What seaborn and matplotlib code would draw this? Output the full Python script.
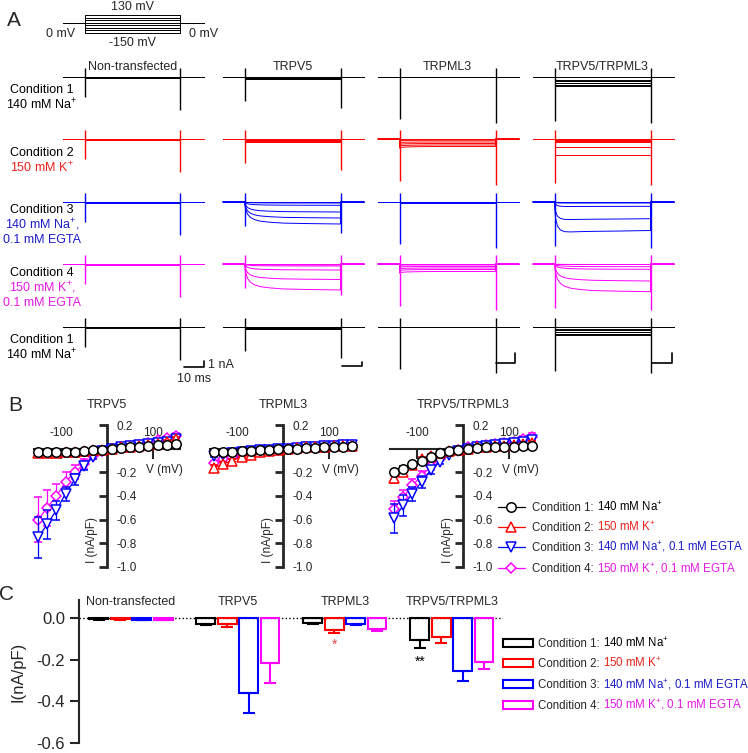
import numpy as np
import pandas as pd
import seaborn as sns
import matplotlib.pyplot as plt
from matplotlib.patches import Rectangle

# ---------------------------------------------------------------- data
cells = ['Non-transfected', 'TRPV5', 'TRPML3', 'TRPV5/TRPML3']
conds = ['Condition 1', 'Condition 2', 'Condition 3', 'Condition 4']
solutions = ['140 mM Na$^{+}$', '150 mM K$^{+}$',
             '140 mM Na$^{+}$, 0.1 mM EGTA', '150 mM K$^{+}$, 0.1 mM EGTA']
line_colors = ['#000000', '#ff0000', '#0000ff', '#ff00ff']
text_colors = ['#000000', '#e8231b', '#1c1cc8', '#e619e6']
markers = ['o', '^', 'v', 'D']
marker_sizes = [6.8, 6.5, 6.5, 5.5]

# A: voltage protocol and whole-cell current traces
protocol_mv = [-150, -110, -70, -30, 10, 50, 90, 130]
pulse_ms = 49
sample_ms = [0, 0.5, 1.5, 3, 5, 8, 13, 20, 32, 49]
profiles = {
    'flat': [1, 1, 1, 1, 1, 1, 1, 1, 1, 1],
    'slow': [0.05, 0.3, 0.55, 0.7, 0.8, 0.87, 0.92, 0.96, 0.98, 1.0],
    'fast': [0.1, 0.55, 0.85, 0.98, 1.04, 1.05, 1.04, 1.03, 1.02, 1.0],
    'ml3': [1.2, 1.15, 1.1, 1.07, 1.05, 1.03, 1.01, 1.0, 1.0, 1.0],
}
trace_rows = [0, 1, 2, 3, 0]   # condition shown in each row of traces
row_labels = [
    [('Condition 1', 0), ('140 mM Na$^{+}$', 0)],
    [('Condition 2', 0), ('150 mM K$^{+}$', 1)],
    [('Condition 3', 0), ('140 mM Na$^{+}$,', 2), ('0.1 mM EGTA', 2)],
    [('Condition 4', 0), ('150 mM K$^{+}$,', 3), ('0.1 mM EGTA', 3)],
    [('Condition 1', 0), ('140 mM Na$^{+}$', 0)],
]

# steady sweep levels (nA) per row, and the time course of each row
sweeps_non = [[0, -0.05, -0.1]] * 5
shape_non = ['flat'] * 5
sweeps_v5 = [[0, -0.05, -0.1, -0.15, -0.2, -0.25],
             [0, -0.05, -0.1, -0.15, -0.2, -0.25, -0.3],
             [0, -0.1, -0.33, -1.0, -1.6, -2.2],
             [0, -0.1, -0.2, -0.6, -1.55, -2.6],
             [0, -0.05, -0.1, -0.15, -0.2, -0.25]]
shape_v5 = ['flat', 'flat', 'slow', 'slow', 'flat']
sweeps_ml3 = [[0, -0.03],
              [0, -0.13, -0.3, -0.45, -0.6, -0.75],
              [0, -0.05, -0.1],
              [0, -0.1, -0.25, -0.4, -0.55, -0.75],
              [0, -0.04]]
shape_ml3 = ['flat', 'ml3', 'flat', 'ml3', 'flat']
sweeps_both = [[0, -0.27, -0.43, -0.6, -0.77, -0.93],
               [0, -0.07, -0.17, -0.3, -0.83, -1.57],
               [0, -0.05, -0.1, -0.43, -1.67, -2.85],
               [0, -0.05, -0.27, -0.53, -1.7, -2.77],
               [0, -0.17, -0.33, -0.5, -0.67, -0.83]]
shape_both = ['flat', 'flat', 'fast', 'slow', 'flat']

spike_up = 0.9
spike_on = [-2.0, -2.4, -4.2, -4.4]
spike_off = [-3.3, -3.1, -4.6, -4.6]
scale_t0 = [51.0, 50.0, 49.0, 50.0]
scale_y = [-4.0, -3.9, -3.6, -3.6]
scale_h = [0.6, 0.4, 1.0, 1.0]

# B: I-V relations (nA/pF)
iv_mv = [-150, -130, -110, -90, -70, -50, -30, -10, 10, 30, 50, 70, 90, 110, 130, 150]
iv_cells = ['TRPV5', 'TRPML3', 'TRPV5/TRPML3']
iv_mean = [
    [[-0.03, -0.03, -0.03, -0.03, -0.025, -0.02, -0.015, -0.01, 0.0, 0.005, 0.01, 0.015, 0.02, 0.03, 0.035, 0.04],
     [-0.04, -0.04, -0.035, -0.03, -0.025, -0.02, -0.015, -0.01, 0.0, 0.01, 0.015, 0.02, 0.03, 0.04, 0.06, 0.08],
     [-0.75, -0.64, -0.52, -0.38, -0.26, -0.15, -0.07, -0.02, 0.0, 0.01, 0.02, 0.03, 0.04, 0.05, 0.06, 0.08],
     [-0.60, -0.50, -0.40, -0.28, -0.20, -0.13, -0.06, -0.02, 0.0, 0.01, 0.02, 0.03, 0.05, 0.07, 0.09, 0.11]],
    [[-0.03, -0.03, -0.025, -0.02, -0.02, -0.015, -0.01, -0.005, 0.0, 0.0, 0.005, 0.005, 0.01, 0.01, 0.015, 0.02],
     [-0.16, -0.13, -0.10, -0.07, -0.05, -0.03, -0.02, -0.01, 0.0, 0.005, 0.01, 0.01, 0.015, 0.02, 0.02, 0.025],
     [-0.06, -0.05, -0.04, -0.03, -0.02, -0.015, -0.01, 0.0, 0.0, 0.005, 0.01, 0.015, 0.02, 0.025, 0.03, 0.03],
     [-0.12, -0.09, -0.07, -0.05, -0.04, -0.03, -0.02, -0.01, 0.0, 0.005, 0.01, 0.015, 0.02, 0.025, 0.03, 0.035]],
    [[-0.20, -0.17, -0.13, -0.10, -0.07, -0.035, -0.02, -0.01, 0.0, 0.005, 0.01, 0.01, 0.015, 0.015, 0.02, 0.02],
     [-0.25, -0.20, -0.14, -0.09, -0.06, -0.035, -0.02, -0.01, 0.0, 0.01, 0.015, 0.02, 0.025, 0.03, 0.04, 0.05],
     [-0.59, -0.48, -0.38, -0.28, -0.18, -0.11, -0.05, -0.02, 0.0, 0.01, 0.02, 0.03, 0.04, 0.05, 0.06, 0.07],
     [-0.51, -0.41, -0.31, -0.23, -0.15, -0.085, -0.04, -0.01, 0.01, 0.02, 0.03, 0.04, 0.05, 0.06, 0.08, 0.10]],
]
iv_sem = [
    [[0.01, 0.01, 0.01, 0.01, 0.01, 0.005, 0.005, 0.0, 0.0, 0.0, 0.005, 0.005, 0.005, 0.01, 0.01, 0.01],
     [0.01, 0.01, 0.01, 0.01, 0.005, 0.005, 0.005, 0.0, 0.0, 0.0, 0.005, 0.005, 0.01, 0.01, 0.015, 0.02],
     [0.17, 0.12, 0.08, 0.06, 0.05, 0.03, 0.02, 0.01, 0.0, 0.0, 0.01, 0.01, 0.01, 0.01, 0.02, 0.02],
     [0.19, 0.15, 0.10, 0.08, 0.06, 0.04, 0.02, 0.01, 0.0, 0.0, 0.01, 0.01, 0.01, 0.02, 0.02, 0.02]],
    [[0.01, 0.01, 0.01, 0.005, 0.005, 0.005, 0.0, 0.0, 0.0, 0.0, 0.0, 0.005, 0.005, 0.005, 0.005, 0.01],
     [0.02, 0.015, 0.01, 0.01, 0.01, 0.005, 0.005, 0.0, 0.0, 0.0, 0.005, 0.005, 0.005, 0.005, 0.01, 0.01],
     [0.01, 0.01, 0.01, 0.005, 0.005, 0.005, 0.0, 0.0, 0.0, 0.0, 0.005, 0.005, 0.005, 0.005, 0.01, 0.01],
     [0.02, 0.015, 0.01, 0.01, 0.01, 0.005, 0.005, 0.0, 0.0, 0.0, 0.005, 0.005, 0.005, 0.01, 0.01, 0.01]],
    [[0.02, 0.02, 0.02, 0.015, 0.01, 0.01, 0.005, 0.0, 0.0, 0.0, 0.005, 0.005, 0.005, 0.005, 0.01, 0.01],
     [0.04, 0.03, 0.03, 0.02, 0.015, 0.01, 0.005, 0.0, 0.0, 0.0, 0.005, 0.005, 0.01, 0.01, 0.01, 0.015],
     [0.12, 0.09, 0.06, 0.05, 0.03, 0.02, 0.01, 0.0, 0.0, 0.0, 0.01, 0.01, 0.01, 0.01, 0.015, 0.02],
     [0.07, 0.06, 0.05, 0.04, 0.03, 0.02, 0.01, 0.01, 0.0, 0.01, 0.01, 0.01, 0.02, 0.02, 0.03, 0.03]],
]
iv_yticks = [-1.0, -0.8, -0.6, -0.4, -0.2, 0.2]
iv_yticklabels = ['-1.0', '-0.8', '-0.6', '-0.4', '-0.2', '0.2']
iv_xticks = [-100, 100]
iv_xticklabels = ['-100', '100']

# C: mean current at -150 mV (nA/pF), rows = cells, columns = conditions
bar_mean = [[-0.006, -0.007, -0.008, -0.008],
            [-0.028, -0.030, -0.361, -0.217],
            [-0.024, -0.058, -0.028, -0.054],
            [-0.107, -0.090, -0.253, -0.210]]
bar_sem = [[0.002, 0.002, 0.002, 0.002],
           [0.004, 0.012, 0.093, 0.096],
           [0.006, 0.012, 0.004, 0.008],
           [0.035, 0.030, 0.048, 0.035]]
star_cell = [2, 3]
star_cond = [1, 0]
star_text = ['*', '**']
star_y = [-0.13, -0.212]
star_color = ['#f04545', '#000000']
bar_yticks = [0.0, -0.2, -0.4, -0.6]

# ---------------------------------------------------------------- style
sns.set_style('ticks')
plt.rcParams['font.family'] = ['Liberation Sans', 'DejaVu Sans']
plt.rcParams['mathtext.fontset'] = 'custom'
plt.rcParams['mathtext.rm'] = 'Liberation Sans'
plt.rcParams['mathtext.it'] = 'Liberation Sans:italic'
plt.rcParams['mathtext.bf'] = 'Liberation Sans:bold'
plt.rcParams['axes.unicode_minus'] = False

W, H = 748, 753
fig = plt.figure(figsize=(W / 100, H / 100), dpi=100)
renderer = fig.canvas.get_renderer()


def px_axes(left, top, width, height):
    return fig.add_axes([left / W, 1 - (top + height) / H, width / W, height / H])


def two_tone(ax, x, y, first, second, color2, size=8.3):
    # black "Condition n:" followed by the coloured solution, on one baseline
    t = ax.text(x, y, first, fontsize=size, ha='left', va='baseline')
    w = t.get_window_extent(renderer).width
    ax.text(x + w + 3, y, second, fontsize=size, color=color2, ha='left', va='baseline')


# ---------------------------------------------------------------- A
axp = px_axes(63, 15, 141, 18)
axp.set_xlim(-11, 61)
axp.set_ylim(-150, 130)
axp.axis('off')
for v in protocol_mv:
    axp.plot([-11, 0, 0, pulse_ms, pulse_ms, 61], [0, 0, v, v, 0, 0],
             color='black', lw=0.7, clip_on=False)
axp.text(pulse_ms / 2, 254, '130 mV', ha='center', va='center', fontsize=9)
axp.text(pulse_ms / 2, -306, '-150 mV', ha='center', va='center', fontsize=9)
axp.text(-12.5, -165, '0 mV', ha='center', va='center', fontsize=9)
axp.text(61, -165, '0 mV', ha='center', va='center', fontsize=9)

col_left = [63, 223, 378, 533]
row_base = [77, 139, 202, 264, 327]
all_sweeps = [sweeps_non, sweeps_v5, sweeps_ml3, sweeps_both]
all_shapes = [shape_non, shape_v5, shape_ml3, shape_both]
t_line = [-11, 0] + sample_ms + [pulse_ms, 61]

for c in range(4):
    for r in range(5):
        ax = px_axes(col_left[c], row_base[r] - 12, 141, 62)
        ax.set_xlim(-11, 61)
        ax.set_ylim(-5.0, 1.2)
        ax.axis('off')
        col = line_colors[trace_rows[r]]
        prof = np.array(profiles[all_shapes[c][r]])
        for level in all_sweeps[c][r]:
            y = [0, 0] + list(level * prof) + [0, 0]
            ax.plot(t_line, y, color=col, lw=0.7, clip_on=False)
        ax.vlines(0, spike_on[c], spike_up, color=col, lw=1)
        ax.vlines(pulse_ms, spike_off[c], spike_up, color=col, lw=1)
        if r == 0:
            ax.text(pulse_ms / 2, 1.0, cells[c], ha='center', va='center', fontsize=9)
        if r == 4:
            x0, y0 = scale_t0[c], scale_y[c]
            ax.plot([x0, x0 + 10, x0 + 10], [y0, y0, y0 + scale_h[c]],
                    color='black', lw=1.2, clip_on=False)
            if c == 0:
                ax.text(x0 + 12, y0 + 0.2, '1 nA', ha='left', va='center', fontsize=9)
                ax.text(x0 + 5, y0 - 1.2, '10 ms', ha='center', va='center', fontsize=9)

# ---------------------------------------------------------------- B
iv_left = [33.4, 209.4, 389.4]
for k in range(3):
    ax = px_axes(iv_left[k], 419.1, 147.2, 153.8)
    ax.set_xlim(-160, 160)
    ax.set_ylim(-1.05, 0.25)
    ax.patch.set_alpha(0)
    ax.spines['left'].set_visible(False)
    ax.spines['bottom'].set_visible(False)
    ax.spines['right'].set_visible(True)
    ax.spines['top'].set_visible(True)
    ax.spines['right'].set_position(('data', 0))
    ax.spines['top'].set_position(('data', 0))
    ax.spines['right'].set_bounds(-1.0, 0.2)
    ax.spines['top'].set_bounds(-158, 158)
    ax.spines['right'].set_linewidth(2)
    ax.spines['top'].set_linewidth(1.5)
    ax.yaxis.tick_right()
    ax.xaxis.tick_top()
    ax.set_yticks(iv_yticks)
    ax.set_yticklabels(iv_yticklabels)
    ax.set_xticks(iv_xticks)
    ax.set_xticklabels(iv_xticklabels)
    ax.tick_params(axis='y', direction='in', length=5.5, width=2, pad=7, labelsize=8.5)
    ax.tick_params(axis='x', direction='in', length=7, width=1.5, pad=7, labelsize=8.5)
    for i in [3, 2, 1, 0]:
        ax.errorbar(iv_mv, iv_mean[k][i], yerr=iv_sem[k][i], color=line_colors[i],
                    marker=markers[i], ms=marker_sizes[i], mfc='white',
                    mec=line_colors[i], mew=1.1, lw=0.9, elinewidth=0.9,
                    capsize=3, capthick=0.9, clip_on=False, zorder=3 + (3 - i))
    ax.text(0, 0.37, iv_cells[k], ha='center', va='center', fontsize=9)
    ax.text(125, -0.18, 'V (mV)', ha='center', va='center', fontsize=8.5)
    ax.text(-33, -0.77, 'I (nA/pF)', ha='center', va='center', rotation=90, fontsize=8.5)

# ---------------------------------------------------------------- C
df = pd.DataFrame({
    'cell': np.repeat(cells, 4),
    'cond': conds * 4,
    'current': np.array(bar_mean).ravel(),
})
axc = px_axes(79, 600.3, 424, 142.7)
sns.barplot(data=df, x='cell', y='current', hue='cond', order=cells, hue_order=conds,
            palette=dict(zip(conds, line_colors)), fill=False, linewidth=1.5,
            gap=0.12, errorbar=None, legend=False, ax=axc)
bars = sorted(axc.patches, key=lambda p: p.get_x())
bar_x = [[0] * 4 for _ in range(4)]
for n, p in enumerate(bars):
    ci, hi = n // 4, n % 4
    bar_x[ci][hi] = p.get_x() + p.get_width() / 2
    axc.errorbar(bar_x[ci][hi], bar_mean[ci][hi], yerr=[[bar_sem[ci][hi]], [0]],
                 fmt='none', ecolor=line_colors[hi], elinewidth=1.5, capsize=4.5,
                 capthick=1.5)
for s in range(len(star_text)):
    axc.text(bar_x[star_cell[s]][star_cond[s]], star_y[s], star_text[s],
             color=star_color[s], ha='center', va='center', fontsize=10)
axc.axhline(0, color='black', ls=':', lw=1, zorder=0)
for i, name in enumerate(cells):
    axc.text(i, 0.077, name, ha='center', va='center', fontsize=9)
axc.set_xlim(-0.486, 3.477)
axc.set_ylim(-0.6, 0.085)
axc.set_xticks([])
axc.set_xlabel('')
axc.set_yticks(bar_yticks)
axc.set_yticklabels(['%.1f' % v for v in bar_yticks])
axc.set_ylabel('I(nA/pF)', fontsize=12, labelpad=8)
axc.tick_params(axis='y', direction='out', length=6.5, width=1.5, labelsize=12)
axc.spines['left'].set_linewidth(1.5)
sns.despine(ax=axc, bottom=True)
axc.patch.set_alpha(0)

# ---------------------------------------------------------------- labels, legends
ov = fig.add_axes([0, 0, 1, 1])
ov.set_xlim(0, W)
ov.set_ylim(H, 0)
ov.axis('off')

ov.text(14, 20, 'A', fontsize=15, ha='center', va='center')
ov.text(15, 405, 'B', fontsize=15, ha='center', va='center')
ov.text(7, 595, 'C', fontsize=15, ha='center', va='center')

row_label_y = [90, 153, 210, 273, 340]
for r, lines in enumerate(row_labels):
    for j, (txt, ci) in enumerate(lines):
        ov.text(42, row_label_y[r] + 15 * j, txt, color=text_colors[ci],
                ha='center', va='center', fontsize=9)

leg_b_y = [507, 527, 547, 568]
for i in range(4):
    y = leg_b_y[i]
    ov.plot([498, 525], [y, y], color=line_colors[i], lw=0.9)
    ov.plot([511.5], [y], marker=markers[i], ms=marker_sizes[i], mfc='white',
            mec=line_colors[i], mew=1.1, ls='none')
    two_tone(ov, 532, y + 4, conds[i] + ':', solutions[i], text_colors[i])

leg_c_y = [643, 663, 684, 705]
for i in range(4):
    y = leg_c_y[i]
    ov.add_patch(Rectangle((503, y - 4), 30, 8, fill=False, ec=line_colors[i], lw=1.5))
    two_tone(ov, 538, y + 4, conds[i] + ':', solutions[i], text_colors[i])

fig.savefig('out.png', dpi=100)
